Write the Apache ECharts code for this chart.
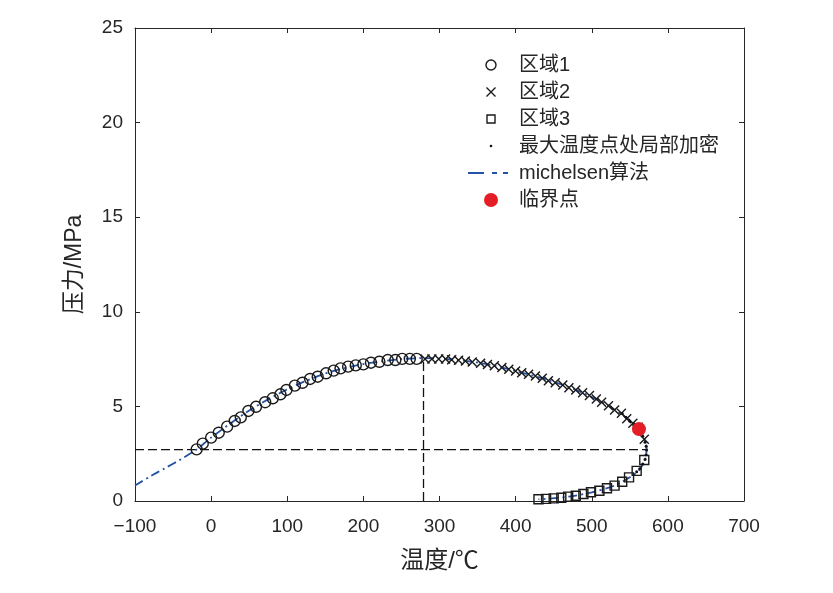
<!DOCTYPE html>
<html>
<head>
<meta charset="utf-8">
<script src="https://cdn.jsdelivr.net/npm/echarts@6/dist/echarts.min.js"></script>
<style>
  html, body { margin: 0; padding: 0; background: #fff; }
  #chart { width: 833px; height: 593px; }
</style>
</head>
<body>
<div id="chart"></div>
<script>
// 区域1 (circles)
const region1T = [-19, -11, 0, 10, 21, 31, 39, 49, 59, 71, 81, 91, 99, 110, 120, 130, 140, 151, 161, 170, 180, 190, 200, 210, 221, 232, 242, 251, 261, 270];
const region1P = [2.73, 3.03, 3.35, 3.61, 3.93, 4.23, 4.42, 4.76, 4.98, 5.22, 5.43, 5.64, 5.87, 6.10, 6.25, 6.45, 6.57, 6.75, 6.89, 7.01, 7.10, 7.17, 7.22, 7.31, 7.36, 7.45, 7.45, 7.51, 7.51, 7.51];
// 区域2 (crosses)
const region2T = [281, 290, 299, 308, 316, 325, 334, 343, 354, 363, 372, 382, 391, 400, 408, 417, 426, 435, 443, 452, 462, 470, 479, 488, 497, 506, 513, 522, 530, 539, 546, 554, 561, 569];
const region2P = [7.51, 7.51, 7.51, 7.50, 7.46, 7.44, 7.40, 7.35, 7.28, 7.22, 7.15, 7.05, 6.96, 6.87, 6.78, 6.70, 6.61, 6.49, 6.36, 6.25, 6.13, 5.99, 5.87, 5.72, 5.57, 5.39, 5.22, 5.04, 4.81, 4.64, 4.35, 4.11, 3.90, 3.26];
// 区域3 (squares)
const region3T = [569, 559, 549, 540, 530, 520, 510, 499, 489, 479, 469, 460, 450, 440, 430];
const region3P = [2.17, 1.59, 1.25, 1.02, 0.81, 0.67, 0.54, 0.46, 0.37, 0.28, 0.23, 0.17, 0.14, 0.11, 0.09];
// 最大温度点处局部加密 (dots)
const denseT = [540, 545, 550, 555, 560, 564, 567, 570, 571.5, 572, 571.5, 570, 567, 563, 559];
const denseP = [4.62, 4.42, 4.22, 4.02, 3.85, 3.62, 3.42, 3.10, 2.90, 2.70, 2.45, 2.20, 1.95, 1.70, 1.55];
// michelsen算法 (line)
const michelsenT = [-100, -80, -60, -40, -20, 0, 50, 100, 150, 200, 250, 280, 320, 360, 400, 440, 480, 520, 545, 560, 568, 572, 570, 562, 550, 530, 500, 470, 440, 430];
const michelsenP = [0.82, 1.30, 1.75, 2.20, 2.70, 3.35, 4.78, 5.90, 6.74, 7.24, 7.50, 7.55, 7.46, 7.25, 6.87, 6.42, 5.86, 5.08, 4.40, 3.92, 3.40, 2.75, 2.20, 1.62, 1.25, 0.82, 0.46, 0.23, 0.11, 0.09];
// 临界点
const criticalT = [562];
const criticalP = [3.8];
// guide lines (cricondentherm / cricondenbar)
const hGuideT = [-100, 572];
const hGuideP = [2.72, 2.72];
const vGuideT = [279, 279];
const vGuideP = [0, 7.55];

const xTicks = { min: -100, max: 700, interval: 100 };
const yTicks = { min: 0, max: 25, interval: 5 };
const legendNames = ['区域1', '区域2', '区域3', '最大温度点处局部加密', 'michelsen算法', '临界点'];

const zip = (a, b) => a.map((v, i) => [v, b[i]]);

const ink = '#262626';
const blue = '#2452a4';
const red = '#e41e26';
const latin = '"Liberation Sans", Arial, sans-serif';
const cjk = '"Liberation Sans", "Noto Sans CJK SC", sans-serif';
const crossPath = 'path://M0,0L10,10M10,0L0,10';

// legend icons: a 44x14 box (the two M points) with the marker drawn inside it
const box = 'path://M0,0M44,14';
const legendIcons = [
  box + 'M18,7a5,5 0 1,0 10,0a5,5 0 1,0 -10,0Z',
  box + 'M18.5,2.5L27.5,11.5M27.5,2.5L18.5,11.5',
  box + 'M19,3L27,3L27,11L19,11Z',
  box + 'M21.7,7a1.3,1.3 0 1,0 2.6,0a1.3,1.3 0 1,0 -2.6,0Z',
  box + 'M0,7L16,7M24,7L29,7M35,7L40,7',
  box + 'M16,7a7,7 0 1,0 14,0a7,7 0 1,0 -14,0Z'
];
const hollow = { color: 'rgba(0,0,0,0)', borderColor: '#1a1a1a', borderWidth: 1.4, opacity: 1 };
const legendStyles = [
  hollow,
  hollow,
  hollow,
  { color: '#111', borderWidth: 0, opacity: 1 },
  { color: 'rgba(0,0,0,0)', borderColor: blue, borderWidth: 2, opacity: 1 },
  { color: red, borderWidth: 0, opacity: 1 }
];

const chart = echarts.init(document.getElementById('chart'), null, { renderer: 'canvas' });

const axisCommon = {
  axisLine: { show: true, onZero: false, lineStyle: { color: ink, width: 1 } },
  axisTick: { show: true, inside: true, length: 5, lineStyle: { color: ink } },
  splitLine: { show: false },
};

const option = {
  backgroundColor: '#fff',
  animation: false,
  grid: { left: 135, right: 89, top: 28, bottom: 92, containLabel: false },
  xAxis: [
    Object.assign({
      type: 'value', ...xTicks,
      name: '温度/℃', nameLocation: 'middle', nameGap: 48,
      nameTextStyle: { fontFamily: cjk, fontSize: 24, color: ink },
      axisLabel: {
        color: ink, fontFamily: latin, fontSize: 19, margin: 16,
        formatter: v => String(v).replace('-', '\u2212')
      }
    }, axisCommon),
    Object.assign({ type: 'value', position: 'top', ...xTicks, axisLabel: { show: false } }, axisCommon)
  ],
  yAxis: [
    Object.assign({
      type: 'value', ...yTicks,
      name: '压力/MPa', nameLocation: 'middle', nameGap: 49, nameRotate: 90,
      nameTextStyle: { fontFamily: cjk, fontSize: 23, color: ink },
      axisLabel: { color: ink, fontFamily: latin, fontSize: 19, margin: 12 }
    }, axisCommon),
    Object.assign({ type: 'value', position: 'right', ...yTicks, axisLabel: { show: false } }, axisCommon)
  ],
  legend: {
    orient: 'vertical', left: 462, top: 50,
    itemWidth: 44, itemHeight: 14, itemGap: 7,
    selectedMode: false,
    textStyle: { fontFamily: cjk, fontSize: 20, color: ink, padding: [0, 0, 0, 2] },
    data: legendNames.map((name, i) => ({ name, icon: legendIcons[i], itemStyle: legendStyles[i] }))
  },
  series: [
    {
      name: 'hguide', type: 'line', data: zip(hGuideT, hGuideP), symbol: 'none', silent: true,
      lineStyle: { color: '#111', width: 1.3, type: [9, 4] }, z: 1
    },
    {
      name: 'vguide', type: 'line', data: zip(vGuideT, vGuideP), symbol: 'none', silent: true,
      lineStyle: { color: '#111', width: 1.3, type: [9, 4] }, z: 1
    },
    {
      name: '区域1', type: 'scatter', data: zip(region1T, region1P),
      symbol: 'circle', symbolSize: 11,
      itemStyle: { color: 'rgba(0,0,0,0)', borderColor: '#1a1a1a', borderWidth: 1.4, opacity: 1 }, z: 3
    },
    {
      name: '区域2', type: 'scatter', data: zip(region2T, region2P),
      symbol: crossPath, symbolSize: 9,
      itemStyle: { color: 'rgba(0,0,0,0)', borderColor: '#1a1a1a', borderWidth: 1.4, opacity: 1 }, z: 3
    },
    {
      name: '区域3', type: 'scatter', data: zip(region3T, region3P),
      symbol: 'rect', symbolSize: 9,
      itemStyle: { color: 'rgba(0,0,0,0)', borderColor: '#1a1a1a', borderWidth: 1.4, opacity: 1 }, z: 3
    },
    {
      name: '最大温度点处局部加密', type: 'scatter', data: zip(denseT, denseP),
      symbol: 'circle', symbolSize: 3,
      itemStyle: { color: '#111', opacity: 1 }, z: 4
    },
    {
      name: 'michelsen算法', type: 'line', data: zip(michelsenT, michelsenP),
      symbol: 'none', smooth: 0.3,
      lineStyle: { color: blue, width: 1.8, type: [9, 4, 2, 4] }, z: 2
    },
    {
      name: '临界点', type: 'scatter', data: zip(criticalT, criticalP),
      symbol: 'circle', symbolSize: 14,
      itemStyle: { color: red, opacity: 1 }, z: 5
    }
  ]
};

chart.setOption(option);
</script>
</body>
</html>
